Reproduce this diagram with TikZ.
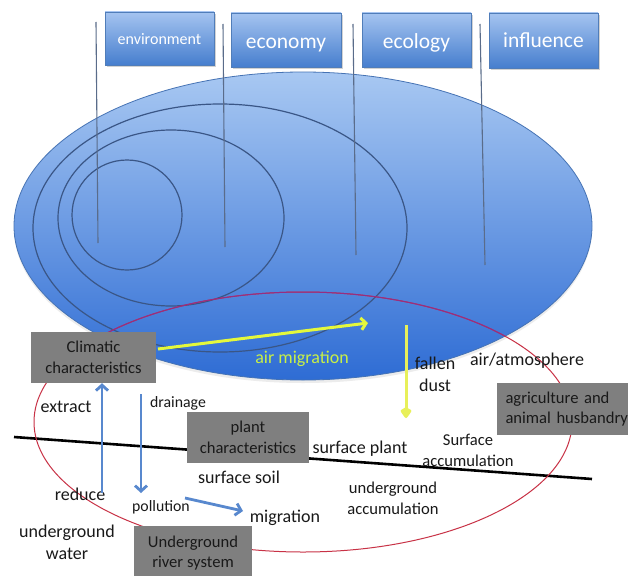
\documentclass[tikz,border=0pt]{standalone}
\usepackage{fontspec}
\setmainfont{Carlito}
\usetikzlibrary{arrows.meta,shadows}
\definecolor{textc}{RGB}{25,25,25}
\definecolor{boxgray}{RGB}{127,127,127}
\definecolor{hdrtop}{RGB}{165,196,240}
\definecolor{hdrbot}{RGB}{70,126,206}
\definecolor{hdrborder}{RGB}{80,125,185}
\definecolor{elltop}{RGB}{168,200,242}
\definecolor{ellbot}{RGB}{46,108,212}
\definecolor{ellborder}{RGB}{70,115,180}
\definecolor{ringc}{RGB}{58,86,134}
\definecolor{pointc}{RGB}{90,108,138}
\definecolor{arrowblue}{RGB}{88,136,206}
\definecolor{airyellow}{RGB}{228,248,60}
\definecolor{dustyellow}{RGB}{232,240,90}
\definecolor{redring}{RGB}{200,50,70}
\definecolor{purplering}{RGB}{150,45,130}
\definecolor{airtext}{RGB}{200,240,70}
\begin{document}
\begin{tikzpicture}[x=1pt,y=-1pt,
  hdr/.style={draw=hdrborder, line width=0.6pt, top color=hdrtop, bottom color=hdrbot,
    text=white, inner sep=0pt, drop shadow={shadow xshift=1.5pt, shadow yshift=-2pt, opacity=0.35}},
  bighdr/.style={hdr, font=\fontsize{21.5}{24}\selectfont, text height=19pt, text depth=2pt},
  gbox/.style={fill=boxgray, text=textc, font=\fontsize{16.6}{20.5}\selectfont, align=center, inner sep=0pt},
  lbl/.style={text=textc, font=\fontsize{18}{22}\selectfont, align=center, inner sep=0pt},
  mlbl/.style={text=textc, font=\fontsize{16.6}{21}\selectfont, align=center, inner sep=0pt},
  slbl/.style={text=textc, font=\fontsize{15.8}{19}\selectfont, align=center, inner sep=0pt},
  ring/.style={draw=ringc, line width=1.2pt},
  pointer/.style={draw=pointc, line width=1.1pt},
  barrow/.style={draw=arrowblue, line width=2.8pt, -{Straight Barb[length=5.5pt,width=12pt]}},
  yarrow/.style={draw=airyellow, line width=3pt, -{Straight Barb[length=5pt,width=12pt]}},
  darrow/.style={draw=dustyellow, line width=3pt, -{Kite[length=12pt,width=12pt,inset=3.5pt,round]}}
]
\useasboundingbox (0,0) rectangle (628,575);
\clip (0,0) rectangle (628,575);
\fill[white] (0,0) rectangle (628,575);

% big blue ellipse and rings
\path[draw=ellborder, line width=0.8pt, top color=elltop, bottom color=ellbot,
  drop shadow={shadow xshift=0pt, shadow yshift=-3pt, opacity=0.15}]
  (303,226) ellipse [x radius=289, y radius=154];
\draw[ring] (220,228) ellipse [x radius=187, y radius=124];
\draw[ring] (171,218) ellipse [x radius=113, y radius=88];
\draw[ring] (127,215) ellipse [x radius=55, y radius=55];

% pointer lines
\coordinate (p1a) at (96,22);  \coordinate (p1b) at (98,243);
\coordinate (p2a) at (223,24); \coordinate (p2b) at (225,247);
\coordinate (p3a) at (353,24); \coordinate (p3b) at (356,255);
\coordinate (p4a) at (480,24); \coordinate (p4b) at (485,265);
\draw[pointer] (p1a) -- (p1b);
\draw[pointer] (p2a) -- (p2b);
\draw[pointer] (p3a) -- (p3b);
\draw[pointer] (p4a) -- (p4b);

% header boxes
\node[hdr, minimum width=109, minimum height=53, font=\fontsize{16}{18}\selectfont, text height=14pt, text depth=1pt] (env) at (159.5,38.5) {environment};
\node[bighdr, minimum width=110, minimum height=54] (eco) at (286,40) {economy};
\node[bighdr, minimum width=109, minimum height=54, text height=20pt] (ecl) at (416.5,40) {ecology};
\node[bighdr, minimum width=109, minimum height=55, text height=17pt] (inf) at (543.5,40.5) {influence};

% ground line
\coordinate (g1) at (14,437);
\coordinate (g2) at (592,479);
\draw[black, line width=2.6pt] (g1) -- (g2);

% red ellipse
\draw[redring, line width=1pt] (303,422) ellipse [x radius=269, y radius=130];
\begin{scope}
  \clip (303,226) ellipse [x radius=289, y radius=154];
  \draw[purplering, line width=1pt] (303,422) ellipse [x radius=269, y radius=130];
\end{scope}

% gray boxes
\node[gbox, minimum width=125, minimum height=51] (clim) at (93.5,357.5) {Climatic\\characteristics};
\node[gbox, minimum width=122, minimum height=51] (plant) at (248,437.5) {plant\\characteristics};
\node[gbox, minimum height=52, text width=126pt, inner xsep=8.5pt, align=left] (agri) at (568.5,409) {agriculture and\\animal husbandry};
\node[gbox, minimum width=118, minimum height=54] (river) at (193,553) {Underground\\river system};

% labels
\node[lbl, text=airtext] (airmig) at (302,359) {air migration};
\node[lbl] (fallen) at (435,374) {fallen\\dust};
\node[lbl] (atmo) at (527,361) {air/atmosphere};
\node[lbl] (extract) at (66,407) {extract};
\node[slbl] (drain) at (178,403) {drainage};
\node[lbl] (splant) at (360,449) {surface plant};
\node[mlbl] (sacc) at (468,450.5) {Surface\\accumulation};
\node[lbl] (ssoil) at (239,477) {surface soil};
\node[mlbl] (uacc) at (393,498.5) {underground\\accumulation};
\node[lbl] (reduce) at (80,494) {reduce};
\node[slbl] (poll) at (161,507) {pollution};
\node[lbl] (migr) at (285,518) {migration};
\node[lbl] (uwater) at (67,542.5) {underground\\water};

% arrows
\coordinate (ya1) at (158,349);
\coordinate (ya2) at (368,323);
\draw[yarrow] (ya1) -- (ya2);
\coordinate (da1) at (406,325);
\coordinate (da2) at (406,418);
\draw[darrow] (da1) -- (da2);
\coordinate (ub) at (102,493);
\draw[barrow] (ub) -- (ub |- clim.south);
\coordinate (dt) at (141,394);
\coordinate (db) at (141,493);
\draw[barrow] (dt) -- (db);
\coordinate (m1) at (185,498);
\coordinate (m2) at (243,511);
\draw[barrow] (m1) -- (m2);
\end{tikzpicture}
\end{document}
